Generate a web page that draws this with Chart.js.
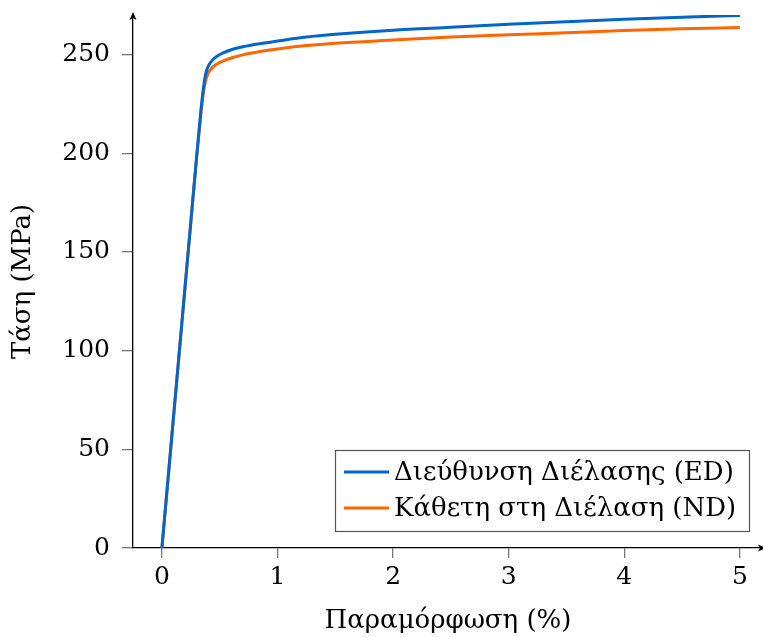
<!DOCTYPE html>
<html>
<head>
<meta charset="utf-8">
<script src="https://cdn.jsdelivr.net/npm/chart.js@4.4.1/dist/chart.umd.min.js"></script>
<style>
  html, body { margin: 0; padding: 0; background: #fff; }
  #wrap { width: 763px; height: 637px; position: relative; }
</style>
</head>
<body>
<div id="wrap"><canvas id="c"></canvas></div>
<script>
// Strain (%) sample points shared by both curves
const strainPct = [0, 0.05, 0.1, 0.15, 0.2, 0.25, 0.3, 0.33, 0.35, 0.37, 0.39, 0.41, 0.44, 0.48, 0.53, 0.6, 0.7, 0.85, 1.0, 1.25, 1.5, 2.0, 2.5, 3.0, 3.5, 4.0, 4.5, 5.0];
// Stress (MPa) along the extrusion direction (ED)
const stressED = [0, 33, 66, 99, 132, 165, 198, 217, 228.5, 237.5, 242.5, 245, 247.3, 249.2, 250.8, 252.4, 253.9, 255.5, 256.8, 258.8, 260.2, 262.3, 263.8, 265.3, 266.6, 267.8, 268.9, 269.8];
// Stress (MPa) normal to the extrusion direction (ND)
const stressND = [0, 33, 66, 99, 132, 165, 197.5, 215.5, 226.5, 234.5, 239, 241.5, 243.6, 245.3, 246.7, 248.2, 249.8, 251.5, 252.8, 254.5, 255.7, 257.3, 258.8, 260, 261, 262.1, 263, 263.7];

const seriesLabels = ['Διεύθυνση Διέλασης (ED)', 'Κάθετη στη Διέλαση (ND)'];
const xTickValues = [0, 1, 2, 3, 4, 5];
const yTickValues = [0, 50, 100, 150, 200, 250];

const FONT = 'DejaVu Serif';
const blue = '#0066cc';
const orange = '#ff6600';

const toPoints = ys => strainPct.map((x, i) => ({ x, y: ys[i] }));

// Arrowheads at the ends of the two axis lines
const axisArrows = {
  id: 'axisArrows',
  afterDraw(chart) {
    const { ctx, chartArea: a } = chart;
    ctx.save();
    ctx.fillStyle = '#000';
    // y axis, pointing up
    ctx.beginPath();
    ctx.moveTo(a.left, a.top - 3);
    ctx.lineTo(a.left - 3.5, a.top + 5);
    ctx.lineTo(a.left, a.top + 3);
    ctx.lineTo(a.left + 3.5, a.top + 5);
    ctx.closePath();
    ctx.fill();
    // x axis, pointing right
    ctx.beginPath();
    ctx.moveTo(a.right + 3, a.bottom);
    ctx.lineTo(a.right - 5, a.bottom - 3.5);
    ctx.lineTo(a.right - 3, a.bottom);
    ctx.lineTo(a.right - 5, a.bottom + 3.5);
    ctx.closePath();
    ctx.fill();
    ctx.restore();
  }
};

// Boxed legend in the lower right of the plot area
const boxLegend = {
  id: 'boxLegend',
  afterDraw(chart) {
    const { ctx } = chart;
    const ds = chart.data.datasets;
    const box = { left: 335, top: 450, right: 749, bottom: 531 };
    ctx.save();
    ctx.fillStyle = '#fff';
    ctx.fillRect(box.left, box.top, box.right - box.left, box.bottom - box.top);
    ctx.strokeStyle = '#555';
    ctx.lineWidth = 1.2;
    ctx.strokeRect(box.left + 0.5, box.top + 0.5, box.right - box.left, box.bottom - box.top);
    ctx.font = '26px "' + FONT + '"';
    ctx.textBaseline = 'middle';
    ctx.textAlign = 'left';
    const rows = [472, 508];
    ds.forEach((d, i) => {
      ctx.strokeStyle = d.borderColor;
      ctx.lineWidth = 3;
      ctx.beginPath();
      ctx.moveTo(344, rows[i]);
      ctx.lineTo(389, rows[i]);
      ctx.stroke();
      ctx.fillStyle = '#000';
      ctx.fillText(d.label, 394, rows[i] + 1);
    });
    ctx.restore();
  }
};

const keepTicks = values => scale => {
  scale.ticks = values.map(v => ({ value: v }));
};

new Chart(document.getElementById('c'), {
  type: 'line',
  data: {
    datasets: [
      { label: seriesLabels[0], data: toPoints(stressED), borderColor: blue, backgroundColor: blue, borderWidth: 3, pointRadius: 0, cubicInterpolationMode: 'monotone', fill: false },
      { label: seriesLabels[1], data: toPoints(stressND), borderColor: orange, backgroundColor: orange, borderWidth: 3, pointRadius: 0, cubicInterpolationMode: 'monotone', fill: false }
    ]
  },
  options: {
    responsive: true,
    maintainAspectRatio: false,
    animation: false,
    layout: { padding: { top: 15, right: 0, left: 0, bottom: 0 } },
    plugins: { legend: { display: false }, tooltip: { enabled: false } },
    scales: {
      x: {
        type: 'linear',
        min: -0.25,
        max: 5.2,
        afterBuildTicks: keepTicks(xTickValues),
        afterFit(scale) { scale.height = 89; scale.paddingLeft = 0; scale.paddingRight = 0; },
        grid: { display: true, drawOnChartArea: false, drawTicks: true, tickLength: 10, color: '#777', lineWidth: 1.3 },
        border: { display: true, color: '#000', width: 1.3 },
        ticks: { color: '#000', font: { family: FONT, size: 25 }, padding: 4, callback: v => String(v) },
        title: { display: true, text: 'Παραμόρφωση (%)', color: '#000', font: { family: FONT, size: 26 }, padding: { top: 2, bottom: 0 } }
      },
      y: {
        type: 'linear',
        min: 0,
        max: 270,
        afterBuildTicks: keepTicks(yTickValues),
        afterFit(scale) { scale.width = 133; scale.paddingTop = 0; scale.paddingBottom = 0; },
        grid: { display: true, drawOnChartArea: false, drawTicks: true, tickLength: 11, color: '#777', lineWidth: 1.3 },
        border: { display: true, color: '#000', width: 1.3 },
        ticks: { color: '#000', font: { family: FONT, size: 25 }, padding: 12, callback: v => String(v) },
        title: { display: true, text: 'Τάση (MPa)', color: '#000', font: { family: FONT, size: 26 }, padding: { top: 8, bottom: 0 } }
      }
    }
  },
  plugins: [axisArrows, boxLegend]
});
</script>
</body>
</html>
